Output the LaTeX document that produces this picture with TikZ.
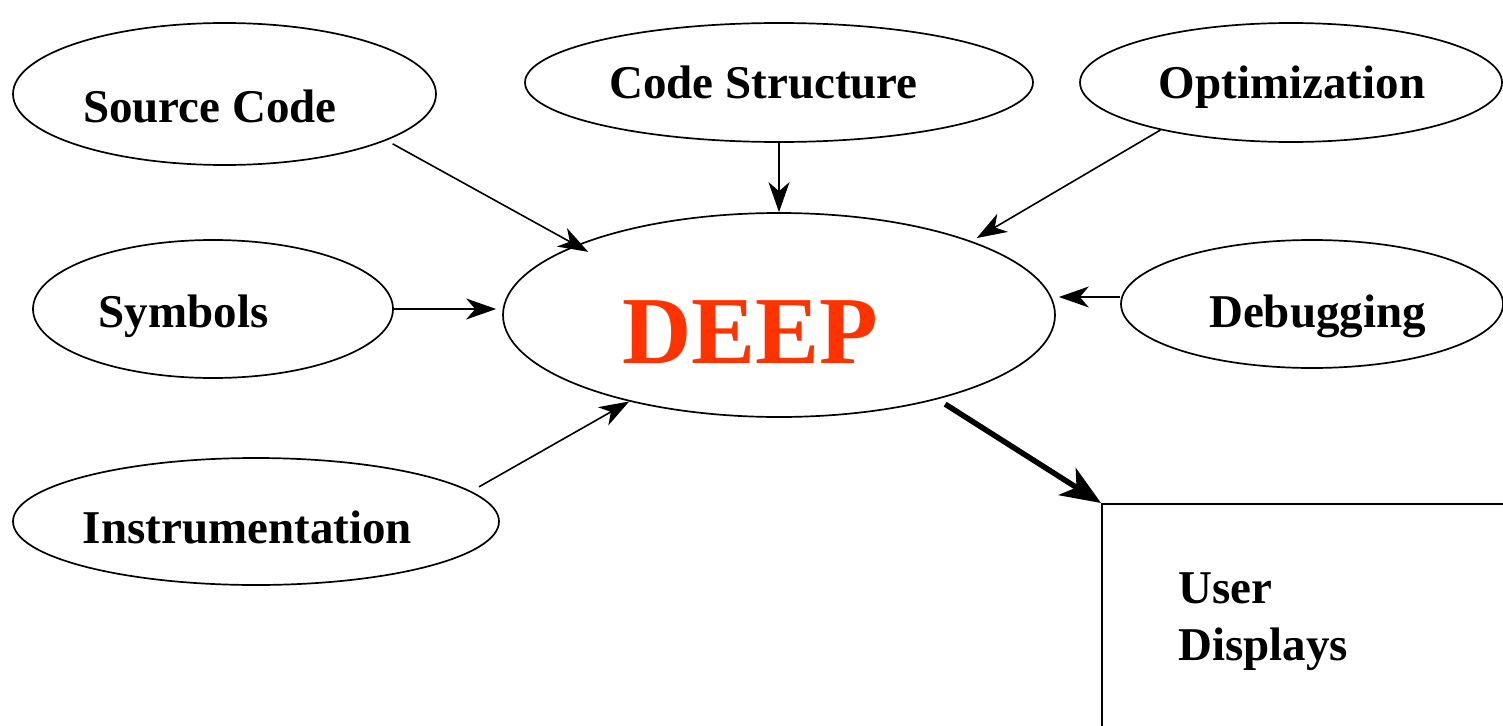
\documentclass[tikz,border=0pt]{standalone}
\usepackage{fontspec}
\setmainfont{Liberation Serif}
\usetikzlibrary{shapes.geometric,arrows.meta}
\definecolor{deepred}{RGB}{255,51,0}
\tikzset{
  oval/.style={draw, ellipse, line width=1.7pt, inner sep=0pt},
  lbl/.style={anchor=base, inner sep=0pt, font=\bfseries\fontsize{47}{57}\selectfont},
  conn/.style={line width=1.6pt, -{Stealth[length=30pt, width=21pt, inset=9pt]}},
  bigconn/.style={line width=5.5pt, -{Stealth[length=40pt, width=32pt, inset=11pt]}}
}
\begin{document}
\begin{tikzpicture}[x=1pt,y=-1pt]
\useasboundingbox (0,0) rectangle (1503,725);
\clip (0,0) rectangle (1503,725);
% ellipses
\node[oval, minimum width=423pt, minimum height=142pt] (src) at (224.5,94) {};
\node[oval, minimum width=508pt, minimum height=119pt] (cs) at (779,82.5) {};
\node[oval, minimum width=422pt, minimum height=119pt] (opt) at (1291,82.5) {};
\node[oval, minimum width=360pt, minimum height=138pt] (sym) at (213,309) {};
\node[oval, minimum width=552pt, minimum height=204pt] (deep) at (779,315) {};
\node[oval, minimum width=382pt, minimum height=128pt] (dbg) at (1312,304) {};
\node[oval, minimum width=486pt, minimum height=127pt] (ins) at (256,521.5) {};
\node[draw, line width=1.9pt, anchor=north west, minimum width=440pt, minimum height=260pt, inner sep=0pt] (box) at (1101,503) {};
% labels
\node[lbl] (tsrc) at (210,122) {Source Code};
\node[lbl] (tcs) at (763.5,98) {Code Structure};
\node[lbl] (topt) at (1292,98) {Optimization};
\node[lbl] (tsym) at (183.5,327) {Symbols};
\node[lbl] (tdbg) at (1317.5,327) {Debugging};
\node[lbl] (tins) at (247.5,543) {Instrumentation};
\node[anchor=base, inner sep=0pt, text=deepred, font=\bfseries\fontsize{96}{110}\selectfont] (tdeep) at (750.5,363) {DEEP};
\node[anchor=base west, inner sep=0pt, font=\bfseries\fontsize{47}{57}\selectfont, align=left] (tbox) at (1178,660) {User\\Displays};
% connectors
\draw[conn, shorten <=7pt, shorten >=-14pt] (src.-16) -- (deep.161);
\draw[conn] (cs.south) -- (deep.north);
\draw[conn, shorten >=6pt] (opt.200) -- (deep.21.7);
\draw[conn, shorten >=6pt] (sym.east) -- (sym.east -| deep.west);
\draw[conn, shorten >=3pt] ([yshift=7pt]dbg.west) -- ([yshift=7pt]dbg.west -| deep.east);
\draw[conn, shorten <=9pt] (ins.8.5) -- (deep.210.8);
\draw[bigconn, shorten <=9pt] (deep.-28) -- (box.north west);
\end{tikzpicture}
\end{document}
